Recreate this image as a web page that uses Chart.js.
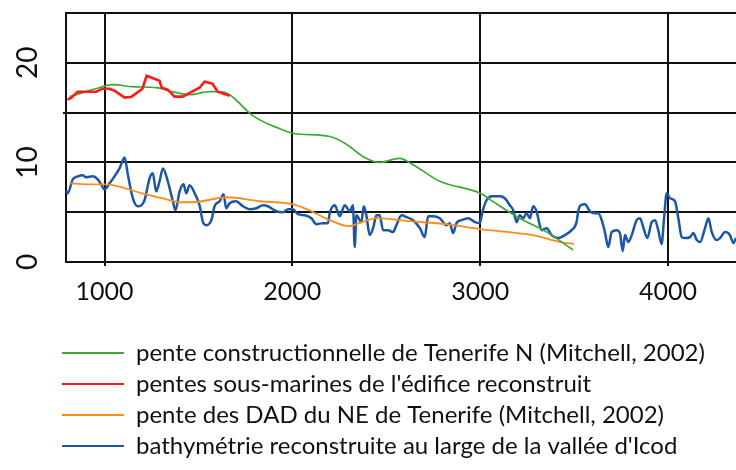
<!DOCTYPE html>
<html lang="fr">
<head>
<meta charset="UTF-8">
<title>Pentes - Tenerife N</title>
<style>
  body { margin: 0; background: #fff; }
  #wrap { width: 736px; height: 470px; }
</style>
</head>
<body>
<div id="wrap"><canvas id="chart" width="736" height="470"></canvas></div>
<script src="https://cdn.jsdelivr.net/npm/chart.js"></script>
<script>
// distances (m) et pentes (degrés) de chaque profil
const greenX = [814, 973, 1043, 1149, 1277, 1362, 1453, 1560, 1613, 1666, 1789, 1930, 2010, 2200, 2290, 2375, 2465, 2570, 2640, 2785, 3000, 3090, 3210, 3355, 3495];
const greenY = [16.6, 17.5, 17.8, 17.6, 17.5, 17.1, 16.8, 17.1, 17.1, 16.8, 14.7, 13.4, 12.9, 12.6, 11.8, 10.6, 10.0, 10.4, 9.8, 8.1, 6.9, 5.8, 4.4, 3.0, 1.2];

const redX = [803, 824, 856, 957, 989, 1027, 1053, 1107, 1144, 1202, 1224, 1293, 1304, 1336, 1373, 1416, 1506, 1533, 1575, 1602, 1666];
const redY = [16.3, 16.5, 17.1, 17.1, 17.4, 17.4, 17.2, 16.5, 16.6, 17.4, 18.7, 18.2, 17.5, 17.3, 16.6, 16.6, 17.5, 18.1, 17.9, 17.1, 16.7];

const orangeX = [820, 900, 1000, 1050, 1200, 1330, 1400, 1470, 1650, 1830, 2000, 2100, 2200, 2300, 2370, 2450, 2620, 2820, 3000, 3280, 3425, 3500];
const orangeY = [7.9, 7.8, 7.8, 7.7, 6.9, 6.3, 6.0, 6.0, 6.5, 6.1, 5.8, 5.1, 4.2, 3.6, 4.0, 4.4, 4.1, 3.8, 3.3, 2.7, 2.0, 1.8];

const blueX = [795, 804, 831, 858, 884, 902, 938, 964, 982, 1000, 1027, 1053, 1080, 1107, 1124, 1151, 1177, 1213, 1240, 1257,
  1275, 1293, 1311, 1337, 1364, 1378, 1400, 1421, 1435, 1453, 1480, 1506, 1524, 1542, 1569, 1586, 1613, 1634, 1648, 1666,
  1700, 1737, 1773, 1808, 1844, 1870, 1915, 1950, 1977, 2003, 2030, 2066, 2101, 2128, 2163, 2190, 2199, 2226, 2252, 2279,
  2306, 2323, 2332, 2341, 2368, 2380, 2394, 2412, 2430, 2448, 2465, 2483, 2510, 2536, 2554, 2581, 2608, 2643, 2679, 2705,
  2723, 2749, 2785, 2821, 2838, 2856, 2874, 2901, 2936, 2972, 2998, 3013, 3034, 3061, 3105, 3131, 3158, 3176, 3194, 3211,
  3229, 3247, 3265, 3282, 3300, 3327, 3354, 3380, 3416, 3451, 3487, 3513, 3522, 3535, 3558, 3584, 3611, 3629, 3647, 3664,
  3682, 3700, 3727, 3744, 3759, 3771, 3789, 3807, 3833, 3851, 3868, 3890, 3913, 3931, 3948, 3966, 3979, 3993, 4011, 4037,
  4055, 4073, 4091, 4117, 4135, 4153, 4171, 4197, 4215, 4233, 4259, 4277, 4304, 4330, 4348, 4362];
const blueY = [7.2, 6.9, 8.3, 8.6, 8.7, 8.5, 8.6, 8.3, 7.8, 7.3, 7.9, 8.6, 9.4, 10.5, 8.8, 6.4, 5.6, 6.2, 8.4, 8.9,
  7.1, 8.1, 9.4, 8.1, 6.1, 5.2, 7.1, 7.8, 6.9, 7.7, 6.9, 5.7, 4.0, 3.7, 4.2, 5.6, 6.1, 6.8, 5.4, 5.9,
  6.1, 5.6, 5.3, 5.4, 5.7, 5.6, 5.1, 5.0, 5.3, 5.3, 4.8, 4.7, 4.4, 3.8, 3.9, 3.9, 4.9, 5.7, 4.6, 5.7,
  5.1, 5.7, 1.5, 4.7, 4.0, 5.6, 4.7, 2.7, 3.4, 4.7, 4.7, 3.2, 3.2, 3.0, 3.7, 4.7, 4.5, 4.2, 3.4, 2.5,
  4.6, 4.6, 4.4, 3.7, 3.9, 2.9, 3.9, 4.2, 4.4, 4.0, 3.9, 5.1, 6.2, 6.6, 6.6, 6.4, 5.7, 5.2, 4.0, 4.7,
  4.4, 4.9, 4.4, 5.6, 5.1, 3.2, 3.4, 2.7, 2.4, 2.7, 3.2, 4.0, 5.1, 5.7, 5.8, 5.1, 4.9, 4.9, 4.2, 3.0,
  1.5, 3.0, 3.2, 2.9, 1.1, 2.7, 2.0, 2.7, 4.2, 4.4, 3.5, 2.4, 4.0, 4.2, 3.2, 1.8, 4.4, 6.9, 6.4, 6.1,
  4.4, 2.5, 2.4, 2.5, 2.9, 2.2, 2.0, 3.4, 4.4, 3.0, 2.2, 2.4, 3.0, 2.7, 1.9, 2.4];

const xTicks = [1000, 2000, 3000, 4000];
const yLabels = [0, 10, 20];

const labels = {
  green: 'pente constructionnelle de Tenerife N (Mitchell, 2002)',
  red: "pentes sous-marines de l'édifice reconstruit",
  orange: 'pente des DAD du NE de Tenerife (Mitchell, 2002)',
  blue: "bathymétrie reconstruite au large de la vallée d'Icod"
};

function pts(xs, ys) {
  return xs.map((x, i) => ({ x: x, y: ys[i] }));
}

const FONT = 'Lato, "Open Sans", sans-serif';
const INK = '#111';

// étiquettes de l'axe vertical, écrites à la verticale
const yLabelPlugin = {
  id: 'yLabels',
  afterDraw(chart) {
    const ctx = chart.ctx;
    const y = chart.scales.y;
    ctx.save();
    ctx.fillStyle = INK;
    ctx.font = '28px ' + FONT;
    ctx.textAlign = 'center';
    ctx.textBaseline = 'middle';
    yLabels.forEach(v => {
      ctx.save();
      ctx.translate(28, y.getPixelForValue(v));
      ctx.rotate(-Math.PI / 2);
      ctx.fillText(String(v), 0, 0);
      ctx.restore();
    });
    ctx.restore();
  }
};

// ordre de la légende : vert, rouge, orange, bleu
const legendRank = [1, 0, 2, 3];

new Chart(document.getElementById('chart'), {
  type: 'line',
  data: {
    datasets: [
      { label: labels.red, data: pts(redX, redY), borderColor: '#ff1a1a', backgroundColor: '#ff1a1a', borderWidth: 2.6, tension: 0 },
      { label: labels.green, data: pts(greenX, greenY), borderColor: '#3aaa35', backgroundColor: '#3aaa35', borderWidth: 1.7, cubicInterpolationMode: 'monotone' },
      { label: labels.orange, data: pts(orangeX, orangeY), borderColor: '#ff8c1a', backgroundColor: '#ff8c1a', borderWidth: 1.8, cubicInterpolationMode: 'monotone' },
      { label: labels.blue, data: pts(blueX, blueY), borderColor: '#1c57a6', backgroundColor: '#1c57a6', borderWidth: 2.5, cubicInterpolationMode: 'monotone' }
    ]
  },
  options: {
    responsive: false,
    animation: false,
    events: [],
    elements: { point: { radius: 0 } },
    layout: { padding: { left: 55, right: 0, top: 13, bottom: 2 } },
    scales: {
      x: {
        type: 'linear',
        min: 795,
        max: 4362,
        z: 1,
        afterBuildTicks: s => { s.ticks = xTicks.map(v => ({ value: v })); },
        afterFit: s => { s.height = 72; },
        grid: { color: INK, lineWidth: 2, tickLength: 4, tickColor: INK, tickWidth: 2 },
        border: { display: true, color: INK, width: 2 },
        ticks: { color: INK, font: { family: FONT, size: 25 }, padding: 11, maxRotation: 0, callback: v => String(v) }
      },
      y: {
        min: 0,
        max: 25,
        z: 1,
        ticks: { stepSize: 5, display: false },
        afterFit: s => { s.width = 11; },
        grid: {
          color: INK,
          lineWidth: 2,
          tickLength: 3,
          tickWidth: 2,
          tickColor: c => (c.tick && c.tick.value === 15 ? INK : 'rgba(0,0,0,0)')
        },
        border: { display: true, color: INK, width: 2 }
      }
    },
    plugins: {
      tooltip: { enabled: false },
      legend: {
        position: 'bottom',
        align: 'start',
        labels: {
          color: INK,
          font: { family: FONT, size: 24 },
          boxWidth: 62,
          boxHeight: 2,
          padding: 7,
          sort: (a, b) => legendRank[a.datasetIndex] - legendRank[b.datasetIndex],
          generateLabels: chart => Chart.defaults.plugins.legend.labels.generateLabels(chart)
            .map(l => Object.assign(l, { lineWidth: 0, fillStyle: l.strokeStyle }))
        }
      }
    }
  },
  plugins: [yLabelPlugin]
});
</script>
</body>
</html>
